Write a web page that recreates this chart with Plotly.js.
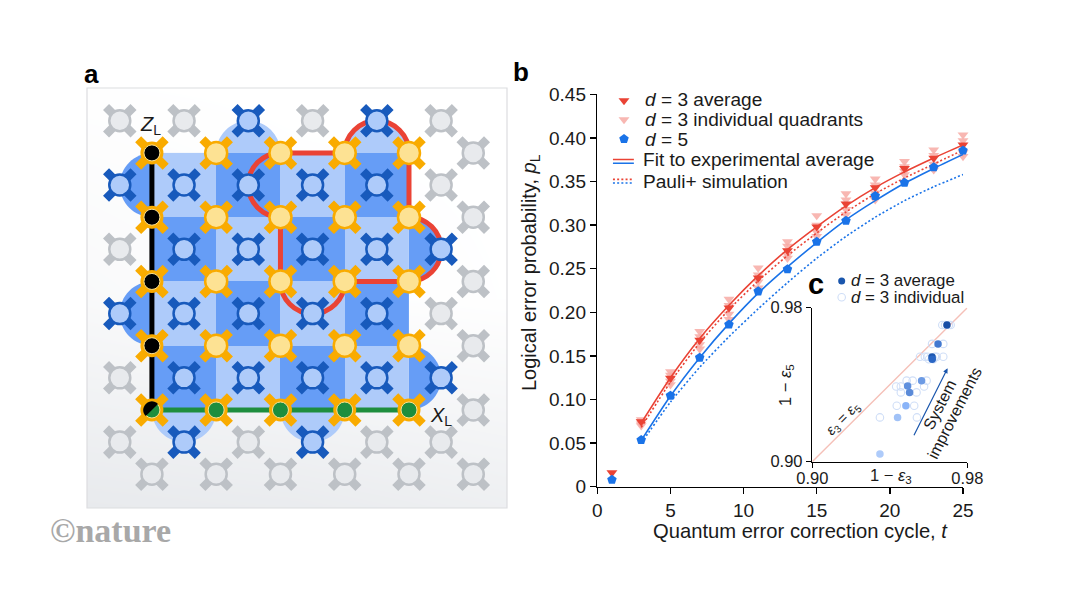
<!DOCTYPE html>
<html><head><meta charset="utf-8">
<script src="https://cdn.plot.ly/plotly-3.0.1.min.js"></script>
<style>html,body{margin:0;padding:0;background:#fff}</style></head>
<body><div id="chart" style="width:1066px;height:600px"></div>
<script>
// ---------- panel b data ----------
const cycles = [3,5,7,9,11,13,15,17,19,21,23,25];
const markerCycles = [1,3,5,7,9,11,13,15,17,19,21,23,25];
const d3Average = [0.016,0.0746,0.1245,0.168,0.205,0.2394,0.2708,0.298,0.3243,0.343,0.365,0.3767,0.392];
const d5Values = [0.008,0.0536,0.1044,0.148,0.186,0.224,0.2494,0.281,0.305,0.3335,0.3487,0.3664,0.3855];
const quadrantCycles = [3,3,3,3,5,5,5,5,7,7,7,7,9,9,9,9,11,11,11,11,13,13,13,13,15,15,15,15,17,17,17,17,19,19,19,19,21,21,21,21,23,23,23,23,25,25,25,25];
const quadrantValues = [0.077,0.075,0.072,0.070,0.132,0.128,0.121,0.117,0.178,0.172,0.163,0.158,0.215,0.208,0.198,0.192,0.2508,0.243,0.235,0.228,0.281,0.276,0.266,0.262,0.311,0.30,0.292,0.287,0.336,0.329,0.318,0.312,0.353,0.346,0.337,0.329,0.373,0.367,0.362,0.3578,0.3863,0.38,0.37,0.3634,0.4035,0.397,0.383,0.3787];
const fitRed = [0.073,0.125,0.170,0.208,0.242,0.272,0.298,0.322,0.343,0.361,0.377,0.392];
const simRed = [0.068,0.120,0.165,0.203,0.236,0.265,0.291,0.315,0.336,0.354,0.370,0.386];
const fitBlue = [0.053,0.104,0.148,0.187,0.222,0.252,0.280,0.306,0.328,0.348,0.365,0.381];
const simBlue = [0.050,0.097,0.137,0.172,0.204,0.234,0.262,0.287,0.309,0.328,0.344,0.358];
const bTicksX = [0,5,10,15,20,25];
const bTicksY = [0,0.05,0.10,0.15,0.20,0.25,0.30,0.35,0.40,0.45];
const bTickTextY = ['0','0.05','0.10','0.15','0.20','0.25','0.30','0.35','0.40','0.45'];
// legend keys of panel b, in the axis units of panel b
const keyX = [1.825], keyAvgY = [0.4428], keyQuadY = [0.4210], keyD5Y = [0.3988];
const keyLineX = [1.07,2.5], keyFitRed = [0.3752,0.3752], keyFitBlue = [0.3710,0.3710], keySimRed = [0.3524,0.3524], keySimBlue = [0.3482,0.3482];

// ---------- panel c data ----------
const avgX = [0.9349,0.944,0.9483,0.9502,0.9492,0.9564,0.9618,0.9619,0.9649,0.9695];
const avgY = [0.904,0.923,0.9291,0.936,0.9393,0.9421,0.9544,0.9532,0.9611,0.971];
const avgColors = ['#aecbfa','#a1c2f7','#8ab4f8','#5a8ad8','#5f90de','#6c9ae4','#1c57b0','#2a66c4','#4379d0','#174ea6'];
const indX = [0.9349,0.9540,0.9436,0.9526,0.9433,0.9457,0.9487,0.9577,0.9457,0.9538,0.9518,0.9590,0.9556,0.9581,0.9595,0.9602,0.9633,0.9642,0.9676,0.9625,0.9618,0.9676,0.9671,0.9685,0.9714,0.9705];
const indY = [0.923,0.923,0.9291,0.9291,0.9391,0.9391,0.9421,0.9391,0.936,0.936,0.9421,0.9421,0.9545,0.9545,0.9545,0.9532,0.9545,0.9545,0.9545,0.9532,0.9612,0.9612,0.971,0.971,0.971,0.971];
const diagX = [0.90,0.98], diagY = [0.90,0.98];
const cTicks = [0.90,0.98], cTickText = ['0.90','0.98'];
// legend keys of panel c sit above its axes, so they are placed in the axis units of panel b
const cKeyX = [16.706], cKeyAvgY = [0.2360], cKeyIndY = [0.2173];

// ---------- panel a data (lattice units: one unit is half a plaquette) ----------
const dataU = [2,4,6,8,2,4,6,8,2,4,6,8,2,4,6,8];
const dataV = [0,0,0,0,2,2,2,2,4,4,4,4,6,6,6,6];
const zU = [0,0,0,0], zV = [0,2,4,6];
const xU = [2,4,6,8,0], xV = [8,8,8,8,8];
const measU = [1,3,5,7,1,3,5,7,1,3,5,7,1,3,5,7,-1,-1,3,7,9,9,1,5];
const measV = [1,1,1,1,3,3,3,3,5,5,5,5,7,7,7,7,1,5,-1,-1,3,7,9,9];
const idleU = [-1,1,5,9,10,9,10,9,10,10,10,9,10,8,6,4,2,0,-1,-1,-1,3,7];
const idleV = [-1,-1,-1,-1,0,1,2,5,4,6,8,9,10,10,10,10,10,10,3,7,9,9,9];
const cellEdges = [0,2,4,6,8];
const checker = [[0,1,0,1],[1,0,1,0],[0,1,0,1],[1,0,1,0]];
const bumpsDark = [[0,1,-1,0],[0,5,-1,0],[8,3,1,0],[8,7,1,0]];   // u, centre v, outward du, dv
const bumpsLight = [[3,0,0,-1],[7,0,0,-1],[1,8,0,1],[5,8,0,1]];
const backdropX = [-2.02,4.5,11.05], backdropY = [-2.02,4.5,11.05];
const backdropZ = [[0.03,0,0],[0.28,0.1,0.02],[1,0.92,0.75]];

// ---------- colours ----------
const RED='#ea4335', PINK='rgba(247,170,165,0.85)', BLUE='#1a73e8', INK='#1a1a1a';
const DARK='#669df6', LIGHT='#aecbfa', NAVY='#185abc', AMBER='#f9ab00';

// ---------- layout helpers (pixels of the reference to paper fractions) ----------
const W=1066,H=600;
const dx=(a,b)=>[a/W,b/W], dy=(top,bot)=>[1-bot/H,1-top/H];
function ann(text,x,y,size,o){return Object.assign({text,x:x/W,y:1-y/H,xref:'paper',yref:'paper',showarrow:false,
  xanchor:'center',yanchor:'middle',font:{family:'Liberation Sans, Arial, sans-serif',size,color:INK}},o||{});}
const X3='x3',Y3='y3';
const AR = 1; // semicircle radius in lattice units
const K = 0.5523;
function semi(u,v,du,dv){ // half circle from the plaquette edge centre (u,v) outward along (du,dv)
  const tx=dv!==0?1:0, ty=du!==0?1:0; // tangent along the edge
  const A=[u-tx*AR,v-ty*AR],B=[u+du*AR,v+dv*AR],C=[u+tx*AR,v+ty*AR];
  const c1=[A[0]+du*K,A[1]+dv*K],c2=[B[0]-tx*K,B[1]-ty*K],c3=[B[0]+tx*K,B[1]+ty*K],c4=[C[0]+du*K,C[1]+dv*K];
  return `C${c1} ${c2} ${B} C${c3} ${c4} ${C}`.replace(/,/g,' ');
}
function bump(b,col){const [u,v,du,dv]=b;
  const tx=dv!==0?1:0, ty=du!==0?1:0;
  return {type:'path',xref:'x4',yref:'y4',layer:'below',line:{width:0},fillcolor:col,
    path:`M${u-tx*AR} ${v-ty*AR} ${semi(u,v,du,dv)} Z`};}
// logical-qubit outline, running clockwise round the two-by-two patch
const redPath = 'M4 0 L6 0 '+semi(7,0,0,-1)+' L8 2 '+semi(8,3,1,0)+' L6 4 '+
  'C6 4.552 5.552 5 5 5 C4.448 5 4 4.552 4 4 L4 2 C3.448 2 3 1.552 3 1 C3 0.448 3.448 0 4 0 Z';

const shapes = [
  ...bumpsDark.map(b=>bump(b,DARK)), ...bumpsLight.map(b=>bump(b,LIGHT)),
  {type:'line',xref:'x4',yref:'y4',x0:0,x1:0,y0:0,y1:8,layer:'below',line:{color:'#000',width:5}},
  {type:'line',xref:'x4',yref:'y4',x0:0,x1:8,y0:8,y1:8,layer:'below',line:{color:'#1e8e3e',width:5}},
  {type:'path',xref:'x4',yref:'y4',layer:'below',path:redPath,line:{color:RED,width:5},fillcolor:'rgba(0,0,0,0)'},
  {type:'rect',xref:'paper',yref:'paper',x0:87/W,x1:507/W,y0:1-508/H,y1:1-88/H,layer:'above',line:{color:'#dcdde0',width:1.2},fillcolor:'rgba(0,0,0,0)'},
  // black half of the corner qubit
  {type:'path',xref:'x4',yref:'y4',layer:'above',line:{width:0},fillcolor:'#000',
   path:'M-0.19 8.19 C-0.30 8.08 -0.30 7.92 -0.19 7.81 C-0.08 7.70 0.08 7.70 0.19 7.81 Z'}
];

function qubit(u,v,armColor,fill,rim,d,rimW,inner){
  const out=[{x:u,y:v,xaxis:'x4',yaxis:'y4',type:'scatter',mode:'markers',hoverinfo:'skip',
    marker:{symbol:'x-thin',size:27.5,color:armColor,line:{color:armColor,width:8.5}}}];
  if(inner) out.push({x:u,y:v,xaxis:'x4',yaxis:'y4',type:'scatter',mode:'markers',hoverinfo:'skip',
    marker:{symbol:'circle',size:d+rimW*2,color:rim}});
  out.push({x:u,y:v,xaxis:'x4',yaxis:'y4',type:'scatter',mode:'markers',hoverinfo:'skip',
    marker:{symbol:'circle',size:d,color:fill,line:{color:inner?inner:rim,width:inner?1:rimW}}});
  return out;
}

const lineB=(x,y,color,dash,name)=>({x,y,type:'scatter',mode:'lines',name,hoverinfo:'skip',cliponaxis:false,
  line:{color,width:1.6,dash:dash||'solid',shape:x.length>2?'spline':'linear',smoothing:0.6}});
const dotted='2px,2.2px';

const traces = [
  // panel a backdrop and checkerboard
  {type:'heatmap',xaxis:X3,yaxis:Y3,x:backdropX,y:backdropY,z:backdropZ,zsmooth:'best',showscale:false,hoverinfo:'skip',zmin:0,zmax:1,
   colorscale:[[0,'#ffffff'],[1,'#e8eaed']]},
  {type:'heatmap',xaxis:X3,yaxis:Y3,x:cellEdges,y:cellEdges,z:checker,showscale:false,hoverinfo:'skip',zmin:0,zmax:1,
   colorscale:[[0,LIGHT],[0.5,LIGHT],[0.5,DARK],[1,DARK]]},
  // panel a qubits
  ...qubit(idleU,idleV,'#bdc1c6','#e8eaed','#bdc1c6',21,2.5),
  ...qubit(measU,measV,NAVY,LIGHT,NAVY,21,2.5),
  ...qubit(dataU,dataV,AMBER,'#fde293',AMBER,22,2.5),
  ...qubit(zU,zV,AMBER,'#000',AMBER,16,3.5,'#fde293'),
  ...qubit(xU,xV,AMBER,'#1e8e3e',AMBER,16,3.5,'#fde293'),
  // panel b
  {x:quadrantCycles,y:quadrantValues,type:'scatter',mode:'markers',name:'d = 3 individual quadrants',hoverinfo:'skip',cliponaxis:false,
   marker:{symbol:'triangle-down',size:9.5,color:PINK,line:{width:0}}},
  lineB(cycles,simBlue,BLUE,dotted,'Pauli+ d=5'),
  lineB(cycles,simRed,RED,dotted,'Pauli+ d=3'),
  lineB(cycles,fitRed,RED,'solid','Fit d=3'),
  lineB(cycles,fitBlue,BLUE,'solid','Fit d=5'),
  {x:markerCycles,y:d3Average,type:'scatter',mode:'markers',name:'d = 3 average',hoverinfo:'skip',cliponaxis:false,
   marker:{symbol:'triangle-down',size:9.5,color:RED,line:{width:0}}},
  {x:markerCycles,y:d5Values,type:'scatter',mode:'markers',name:'d = 5',hoverinfo:'skip',cliponaxis:false,
   marker:{symbol:'pentagon',size:10,color:BLUE,line:{width:0}}},
  // panel b legend keys
  {x:keyX,y:keyAvgY,type:'scatter',mode:'markers',hoverinfo:'skip',marker:{symbol:'triangle-down',size:9.5,color:RED,line:{width:0}}},
  {x:keyX,y:keyQuadY,type:'scatter',mode:'markers',hoverinfo:'skip',marker:{symbol:'triangle-down',size:9.5,color:PINK,line:{width:0}}},
  {x:keyX,y:keyD5Y,type:'scatter',mode:'markers',hoverinfo:'skip',marker:{symbol:'pentagon',size:10,color:BLUE,line:{width:0}}},
  lineB(keyLineX,keyFitRed,RED),lineB(keyLineX,keyFitBlue,BLUE),
  lineB(keyLineX,keySimRed,RED,dotted),lineB(keyLineX,keySimBlue,BLUE,dotted),
  // panel c
  {x:diagX,y:diagY,xaxis:'x2',yaxis:'y2',type:'scatter',mode:'lines',hoverinfo:'skip',line:{color:'#f5c0b8',width:1.4}},
  {x:indX,y:indY,xaxis:'x2',yaxis:'y2',type:'scatter',mode:'markers',hoverinfo:'skip',cliponaxis:false,
   marker:{symbol:'circle-open',size:7.5,color:'#cfdef7',line:{width:1.1,color:'#cfdef7'}}},
  {x:avgX,y:avgY,xaxis:'x2',yaxis:'y2',type:'scatter',mode:'markers',hoverinfo:'skip',cliponaxis:false,
   marker:{symbol:'circle',size:7.5,color:avgColors}},
  {x:cKeyX,y:cKeyAvgY,type:'scatter',mode:'markers',hoverinfo:'skip',
   marker:{symbol:'circle',size:7,color:'#1a56ad'}},
  {x:cKeyX,y:cKeyIndY,type:'scatter',mode:'markers',hoverinfo:'skip',
   marker:{symbol:'circle-open',size:7.5,color:'#cfdef7',line:{width:1.1,color:'#cfdef7'}}}
];

const hiddenAxis=(domain,range,anchor)=>({domain,range,anchor,visible:false,fixedrange:true});
const axisBase={showgrid:false,zeroline:false,showline:true,linecolor:'#000',linewidth:1.5,ticks:'outside',tickcolor:'#000',tickwidth:1.5,mirror:false,fixedrange:true};
const tickFontB={family:'Liberation Sans, Arial, sans-serif',size:19,color:INK};
const tickFontC={family:'Liberation Sans, Arial, sans-serif',size:16.5,color:INK};
const uRange=[-2.02,11.05], vRange=[11.05,-2.02];
const LEG=19.1;

const annotations=[
  ann('<b>a</b>',91,74,26,{font:{family:'Liberation Sans',size:26,color:'#000'}}),
  ann('<b>b</b>',521,72,26,{font:{family:'Liberation Sans',size:26,color:'#000'}}),
  ann('<b>c</b>',816,284,29,{font:{family:'Liberation Sans',size:29,color:'#000'}}),
  ann('<i>Z</i><sub>L</sub>',150,125,20),
  ann('<i>X</i><sub>L</sub>',441,416,20),
  ann('<b>©nature</b>',110,530,34,{font:{family:'Liberation Serif, serif',size:34,color:'#a8a8a8'}}),
  ann('<i>d</i> = 3 average',643,100,LEG,{xanchor:'left'}),
  ann('<i>d</i> = 3 individual quadrants',643,120,LEG,{xanchor:'left'}),
  ann('<i>d</i> = 5',643,139.5,LEG,{xanchor:'left'}),
  ann('Fit to experimental average',641,160,LEG,{xanchor:'left'}),
  ann('Pauli+ simulation',641,181,LEG,{xanchor:'left'}),
  ann('Quantum error correction cycle, <i>t</i>',800,531,20.2),
  ann('Logical error probability, <i>p</i><sub>L</sub>',530,273,20,{textangle:-90}),
  ann('<i>d</i> = 3 average',849,280,16.9,{xanchor:'left'}),
  ann('<i>d</i> = 3 individual',849,297,16.9,{xanchor:'left'}),
  ann('1 − <i>ε</i><sub>3</sub>',891,476,16.5),
  ann('1 − <i>ε</i><sub>5</sub>',786,385,16.5,{textangle:-90}),
  ann('<i>ε</i><sub>3</sub> = <i>ε</i><sub>5</sub>',843,419,14.5,{textangle:-45}),
  ann('System',939,405,16,{textangle:-63}),
  ann('improvements',954,413,16,{textangle:-63}),
  {x:0.9698,y:0.9485,ax:0.9521,ay:0.913,xref:'x2',yref:'y2',axref:'x2',ayref:'y2',showarrow:true,arrowhead:2,arrowsize:0.8,arrowwidth:1.2,arrowcolor:'#1a56ad',text:''}
];

const layout={width:W,height:H,margin:{l:0,r:0,t:0,b:0},paper_bgcolor:'#fff',plot_bgcolor:'rgba(0,0,0,0)',showlegend:false,
  font:{family:'Liberation Sans, Arial, sans-serif',color:INK},
  xaxis:Object.assign({},axisBase,{domain:dx(597.3,963),range:[0,25],anchor:'y',tickvals:bTicksX,ticktext:bTicksX.map(String),ticklen:6,tickfont:tickFontB,tickangle:0}),
  yaxis:Object.assign({},axisBase,{domain:dy(94.3,486.7),range:[0,0.45],anchor:'x',tickvals:bTicksY,ticktext:bTickTextY,ticklen:6,tickfont:tickFontB}),
  xaxis2:Object.assign({},axisBase,{domain:dx(812.3,967.3),range:[0.90,0.98],anchor:'y2',tickvals:cTicks,ticktext:cTickText,ticklen:5,tickfont:tickFontC,tickangle:0,ticklabelstandoff:-4}),
  yaxis2:Object.assign({},axisBase,{domain:dy(307.7,461.7),range:[0.90,0.98],anchor:'x2',tickvals:cTicks,ticktext:cTickText,ticklen:5,tickfont:tickFontC}),
  xaxis3:hiddenAxis(dx(87,507),uRange,'y3'), yaxis3:hiddenAxis(dy(88,508),vRange,'x3'),
  xaxis4:hiddenAxis(dx(87,507),uRange,'y4'), yaxis4:hiddenAxis(dy(88,508),vRange,'x4'),
  shapes,annotations};

Plotly.newPlot('chart',traces,layout,{displayModeBar:false,staticPlot:true});
</script></body></html>
